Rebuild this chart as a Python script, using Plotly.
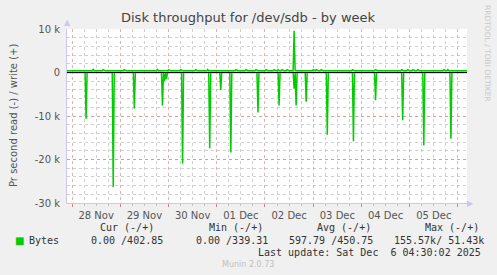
import pandas as pd
import plotly.graph_objects as go

# ---------------- data ----------------
range_start = "2025-11-27 21:30"
range_end = "2025-12-06 04:30"

write_base = 400  # bytes/s, steady write level
write_peak_times = [
    "2025-11-28 10:30", "2025-11-28 15:30", "2025-11-29 02:00", "2025-11-29 18:30",
    "2025-11-30 00:00", "2025-11-30 06:00", "2025-11-30 13:30", "2025-11-30 19:30",
    "2025-12-01 09:30", "2025-12-01 14:30", "2025-12-01 19:30", "2025-12-02 00:30",
    "2025-12-02 04:30", "2025-12-02 06:30", "2025-12-02 08:30", "2025-12-02 11:00",
    "2025-12-02 14:30", "2025-12-03 00:00", "2025-12-03 01:30", "2025-12-03 04:00",
    "2025-12-03 19:30", "2025-12-04 07:00", "2025-12-04 20:00", "2025-12-04 23:00",
    "2025-12-05 01:30", "2025-12-05 04:00", "2025-12-05 17:00", "2025-12-05 19:00",
]
write_peak_values = [
    700, 650, 650, 700,
    650, 650, 650, 700,
    650, 650, 650, 650,
    650, 650, 650, 650,
    9600, 650, 650, 650,
    650, 650, 650, 650,
    650, 650, 650, 650,
]

read_spike_times = [
    "2025-11-28 07:00", "2025-11-28 20:30", "2025-11-29 07:00", "2025-11-29 21:00",
    "2025-11-29 22:00", "2025-11-29 23:00", "2025-11-30 07:00", "2025-11-30 20:30",
    "2025-12-01 02:00", "2025-12-01 07:00", "2025-12-01 20:30", "2025-12-02 07:00",
    "2025-12-02 14:30", "2025-12-02 15:30", "2025-12-02 20:30", "2025-12-03 07:00",
    "2025-12-03 20:00", "2025-12-04 07:00", "2025-12-04 20:30", "2025-12-05 07:00",
    "2025-12-05 20:30",
]
read_spike_values = [
    -10600, -26400, -8300, -7600,
    -2000, -1500, -20900, -17400,
    -4000, -18400, -9200, -7600,
    -3700, -7600, -6700, -14300,
    -15800, -6400, -11000, -16800,
    -15200,
]

y_tickvals = [-30000, -20000, -10000, 0, 10000]
y_ticktext = ["-30 k", "-20 k", "-10 k", "0", "10 k"]

legend_headers = ["Cur (-/+)", "Min (-/+)", "Avg (-/+)", "Max (-/+)"]
legend_values = ["0.00 /402.85", "0.00 /339.31", "597.79 /450.75", "155.57k/ 51.43k"]
series_name = "Bytes"
last_update = "Last update: Sat Dec  6 04:30:02 2025"

# ---------------- build 30-minute series ----------------
idx = pd.date_range(range_start, range_end, freq="30min")
write = pd.Series(float(write_base), index=idx)
write.loc[pd.to_datetime(write_peak_times)] = write_peak_values
read = pd.Series(0.0, index=idx)
read.loc[pd.to_datetime(read_spike_times)] = read_spike_values

GREEN = "#00cc00"
fig = go.Figure()
fig.add_trace(go.Scatter(x=idx, y=read.values, mode="lines",
                         line=dict(color=GREEN, width=1.5), hoverinfo="skip"))
fig.add_trace(go.Scatter(x=idx, y=write.values, mode="lines",
                         line=dict(color=GREEN, width=1.5), hoverinfo="skip"))

L, R, T, B = 67, 467, 29, 203
W, H = R - L, B - T
def X(px):
    return (px - L) / W
def Y(py):
    return (B - py) / H

MAJ = "rgba(225,120,120,0.6)"
MIN = "rgba(150,150,150,0.45)"
AX = "#c8c8f0"
tickfont = dict(family="DejaVu Sans", size=10, color="#555555")

fig.update_layout(
    width=497, height=275,
    margin=dict(l=L, r=497 - R, t=T, b=275 - B),
    paper_bgcolor="#f0f0f0", plot_bgcolor="white",
    showlegend=False,
    xaxis=dict(
        type="date", range=[range_start, range_end],
        tick0="2025-11-28", dtick=86400000, ticklabelmode="period",
        tickformat="%d %b", tickfont=tickfont,
        showgrid=True, gridcolor=MAJ, griddash="dot", gridwidth=1,
        ticks="outside", ticklen=3, tickcolor="#e08080",
        minor=dict(dtick=6 * 3600000, showgrid=True, gridcolor=MIN, griddash="dot",
                   ticks="outside", ticklen=2, tickcolor="#c0c0c0"),
        showline=True, linecolor=AX, linewidth=1, zeroline=False,
    ),
    yaxis=dict(
        range=[-30000, 10000], tickvals=y_tickvals, ticktext=y_ticktext,
        tickfont=tickfont,
        showgrid=True, gridcolor=MAJ, griddash="dot", gridwidth=1,
        minor=dict(dtick=2000, showgrid=True, gridcolor=MIN, griddash="dot"),
        showline=True, linecolor=AX, linewidth=1, zeroline=False,
        ticks="outside", ticklen=4, tickcolor="rgba(0,0,0,0)",
    ),
)

# zero rule drawn on top (as munin's HRULE)
fig.add_shape(type="line", xref="paper", yref="y", x0=0, x1=1, y0=0, y1=0,
              line=dict(color="black", width=1), layer="above")

ann = []
def text(px, py, s, size=10, color="#333333", family="DejaVu Sans Mono", xanchor="left", **kw):
    ann.append(dict(x=X(px), y=Y(py), xref="paper", yref="paper", text=s, showarrow=False,
                    xanchor=xanchor, yanchor="middle",
                    font=dict(family=family, size=size, color=color), **kw))

text(248, 18, "Disk throughput for /dev/sdb - by week", size=13, color="#444444",
     family="DejaVu Sans", xanchor="center")
text(13, 116, "Pr second read (-) / write (+)", size=10, color="#555555",
     family="DejaVu Sans", xanchor="center", textangle=-90)
text(488, 53, "RRDTOOL / TOBI OETIKER", size=7.5, color="#c8c8c8",
     family="DejaVu Sans", xanchor="center", textangle=90)
# axis arrows
text(67, 23, "▲", size=8, color=AX, family="DejaVu Sans", xanchor="center")
text(470, 203, "▶", size=8, color=AX, family="DejaVu Sans", xanchor="center")

header_x = [98, 207, 315, 423]
value_x = [89, 194, 287, 392]
for hx, h in zip(header_x, legend_headers):
    text(hx, 227, h)
text(13, 240, "■", color=GREEN, family="DejaVu Sans", size=10)
text(27, 240, series_name)
for vx, v in zip(value_x, legend_values):
    text(vx, 240, v)
text(483, 252, last_update, xanchor="right")
text(248, 264, "Munin 2.0.73", size=8, color="#c0c0c0", family="DejaVu Sans", xanchor="center")

fig.update_layout(annotations=ann)
fig.write_html("out.html")
